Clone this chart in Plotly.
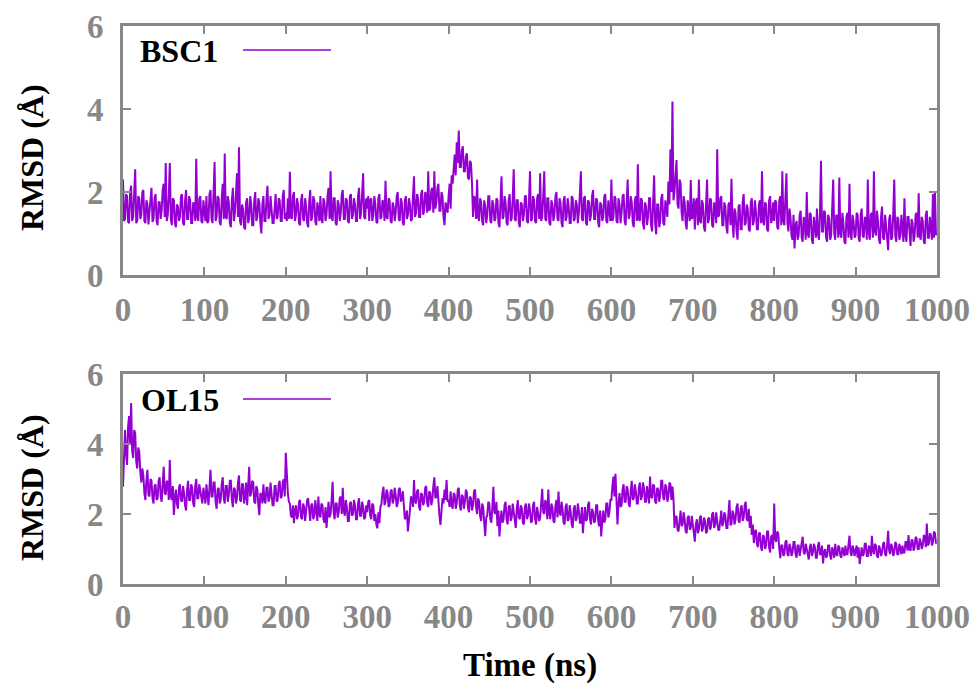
import numpy as np
import plotly.graph_objects as go

# ---- Data (RMSD in Angstrom; one list per 100 ns of simulation time) ----
segment_starts = [0, 100, 200, 300, 400, 500, 600, 700, 800, 900]
segment_length = 100
x_ticks = [0, 100, 200, 300, 400, 500, 600, 700, 800, 900, 1000]
y_ticks = [0, 2, 4, 6]

bsc1_000 = [2.30,1.30,1.35,1.95,1.90,1.28,1.25,2.00,2.15,1.30,1.40,1.85,2.55,1.25,1.30,1.90,1.85,1.35,1.45,2.00,2.05,1.30,1.25,1.80,1.70,1.22,1.50,1.95,2.10,1.28,1.35,1.85,1.95,1.30,1.20,1.75,1.75,1.35,1.55,2.05,2.20,1.40,2.70,1.30,1.45,1.90,2.70,1.35,1.20,1.85,1.80,1.25,1.15,1.70,1.65,1.30,1.40,1.90,1.95,1.25,1.20,1.80,2.05,1.35,1.35,1.90,1.80,1.25,1.25,1.75,1.70,1.30,2.80,1.40,1.30,1.85,1.90,1.30,1.25,1.80]
bsc1_100 = [1.45,1.30,1.90,1.25,1.30,1.95,2.05,1.35,1.25,1.80,2.72,1.30,1.40,1.90,1.85,1.28,1.20,1.85,2.20,1.35,2.93,1.40,1.35,1.90,1.75,1.25,1.15,1.80,2.10,1.30,1.50,1.95,2.45,1.40,3.08,1.30,1.20,1.70,1.60,1.15,1.10,1.75,1.85,1.25,1.35,1.90,1.70,1.20,1.20,1.80,2.00,1.30,1.40,1.85,1.75,1.25,1.00,1.70,1.90,1.30,1.30,1.85,2.15,1.35,1.45,1.90,1.65,1.25,1.25,1.80,1.95,1.35,1.40,1.85,1.80,1.30,1.30,1.90,2.05,1.35]
bsc1_200 = [1.50,1.30,1.85,1.35,2.49,1.40,1.35,1.90,2.00,1.30,1.45,1.85,1.70,1.25,1.20,1.80,1.95,1.35,1.30,1.85,1.65,1.25,1.15,1.75,2.05,1.30,1.40,1.90,1.80,1.28,1.20,1.75,1.60,1.30,1.90,1.35,1.25,1.85,1.75,1.30,1.45,1.90,2.10,1.35,2.50,1.40,1.30,1.85,1.85,1.25,1.20,1.80,1.70,1.30,1.50,1.95,2.05,1.35,1.35,1.85,1.80,1.30,1.25,1.90,1.95,1.35,1.45,1.85,1.70,1.30,1.30,1.90,2.10,1.35,1.50,1.95,2.45,1.40,1.35,1.85]
bsc1_300 = [1.60,1.90,1.30,1.80,1.85,1.30,1.45,1.90,1.70,1.28,1.25,1.85,1.95,1.35,1.40,1.80,1.75,1.30,2.27,1.40,1.35,1.85,1.80,1.30,1.25,1.75,1.65,1.30,1.50,1.90,2.00,1.35,1.30,1.85,1.75,1.25,1.20,1.80,1.90,1.35,1.45,1.85,1.70,1.30,1.35,1.90,2.38,1.40,1.50,1.95,1.85,1.40,1.40,1.95,2.05,1.45,1.55,2.00,1.90,1.50,2.50,1.55,1.60,2.05,2.10,1.50,2.50,1.60,1.75,2.10,2.20,1.55,1.55,2.00,1.90,1.40,1.20,1.75,1.65,1.50]
bsc1_400 = [1.90,2.20,1.60,2.40,2.20,2.60,2.90,2.40,3.20,2.70,3.48,2.60,2.60,3.00,3.10,2.50,2.50,2.85,2.93,2.35,2.30,2.75,2.70,2.20,1.40,1.90,1.85,1.35,2.30,1.40,1.30,1.85,1.75,1.30,1.20,1.80,1.65,1.25,1.45,1.90,1.90,1.30,1.25,1.80,1.70,1.30,1.35,1.85,1.80,1.25,1.15,1.75,2.38,1.35,1.40,1.90,1.75,1.25,1.20,1.80,1.95,1.30,1.35,1.85,2.55,1.35,1.30,1.80,1.80,1.25,1.15,1.75,1.70,1.30,1.45,1.90,1.90,1.30,1.25,1.80]
bsc1_500 = [2.50,1.30,1.35,1.90,1.80,1.30,1.25,1.85,1.95,1.35,2.45,1.30,1.40,1.90,2.50,1.35,1.30,1.85,1.85,1.25,1.20,1.80,1.70,1.30,1.45,1.90,2.00,1.35,1.30,1.85,1.75,1.25,1.15,1.80,1.90,1.30,1.40,1.85,1.65,1.25,1.25,1.90,1.85,1.30,1.35,1.80,1.70,1.25,1.50,1.95,2.50,1.35,1.30,1.85,1.90,1.25,1.20,1.80,1.75,1.30,1.45,1.90,2.05,1.35,1.35,1.85,1.80,1.25,1.15,1.75,1.70,1.30,1.40,1.90,1.95,1.30,1.25,1.80,1.60,1.30]
bsc1_600 = [2.30,1.30,1.40,1.90,1.85,1.30,1.25,1.85,1.70,1.25,1.50,1.90,1.95,1.30,1.20,1.80,2.30,1.35,1.45,1.90,1.75,1.25,1.15,1.80,1.90,1.30,2.67,1.35,1.30,1.85,1.80,1.25,1.10,1.75,1.65,1.20,1.40,1.85,1.85,1.20,1.05,1.75,2.40,1.25,0.98,1.70,1.70,1.15,1.30,1.85,1.95,1.25,1.20,1.80,1.60,1.40,2.25,1.70,3.03,2.00,4.18,1.80,2.00,2.60,2.77,1.70,1.60,2.30,2.20,1.50,1.30,1.90,1.75,1.25,1.10,1.80,1.60,1.30,2.29,1.35]
bsc1_700 = [1.40,1.85,1.10,1.75,1.85,1.20,2.30,1.30,1.25,1.80,1.70,1.15,1.05,1.75,2.30,1.25,1.35,1.85,1.80,1.20,1.15,1.75,1.60,1.25,3.03,1.40,1.45,1.85,1.90,1.20,1.20,1.75,1.65,1.15,1.00,1.70,1.75,1.20,2.32,1.30,0.90,1.60,1.50,1.05,0.85,1.65,1.70,1.10,1.10,1.75,1.95,1.20,1.25,1.70,1.60,1.10,1.05,1.75,1.85,1.20,1.30,1.80,1.55,1.10,1.10,1.70,1.80,1.25,2.50,1.30,1.20,1.75,1.70,1.10,1.05,1.80,1.90,1.25,1.35,1.75]
bsc1_800 = [1.30,1.80,1.75,1.15,1.10,1.80,1.90,1.20,2.50,1.30,1.20,1.85,2.45,1.25,1.05,1.60,1.40,0.95,0.85,1.45,0.64,1.20,1.30,0.85,0.95,1.45,1.55,0.90,0.80,1.40,1.25,0.85,2.00,1.00,0.90,1.50,1.45,0.85,0.75,1.40,1.20,0.90,1.60,1.00,0.85,1.50,2.75,1.05,1.05,1.55,1.50,0.90,0.80,1.45,1.35,0.85,0.95,1.50,2.30,1.00,0.85,1.45,1.40,0.90,2.35,1.00,0.90,1.50,1.25,0.80,0.75,1.40,1.50,0.90,2.20,1.00,0.85,1.45,1.30,0.90]
bsc1_900 = [0.95,1.50,1.45,0.90,0.80,1.45,1.60,0.95,0.90,1.40,1.35,0.85,2.30,1.00,0.85,1.45,1.50,0.90,2.50,1.05,0.95,1.55,1.30,0.85,0.75,1.40,1.65,0.90,0.85,1.45,1.20,0.80,0.60,1.35,1.45,0.85,0.90,1.50,2.30,0.95,0.80,1.40,1.35,0.85,0.95,1.45,1.15,0.80,1.85,0.95,0.80,1.40,1.40,0.85,0.70,1.35,1.25,0.80,0.95,1.45,1.50,0.90,1.97,0.95,0.85,1.40,1.30,0.80,0.75,1.45,1.55,0.90,0.90,1.40,1.20,0.85,1.95,0.90,2.00,0.95]

ol15_000 = [2.78,3.60,4.40,3.70,3.40,4.50,4.80,4.00,5.17,3.80,3.60,4.40,4.30,3.50,3.30,3.90,3.78,3.20,2.90,3.30,3.10,2.60,2.40,2.95,3.26,2.55,2.50,3.00,2.95,2.45,2.30,2.80,2.85,2.40,2.45,2.95,3.05,2.50,2.35,2.85,3.35,2.60,2.55,2.95,2.90,2.40,3.54,2.50,2.40,2.80,1.97,2.45,2.70,2.30,2.15,2.75,2.85,2.40,2.35,2.80,2.60,2.25,2.10,2.70,2.95,2.40,2.40,2.85,2.75,2.30,2.20,2.80,3.00,2.45,2.45,2.85,2.65,2.35,2.30,2.75]
ol15_100 = [2.45,2.30,2.85,2.40,2.25,2.75,3.26,2.50,2.50,2.90,2.90,2.35,2.15,2.70,2.75,2.30,2.40,2.85,3.05,2.45,2.30,2.80,2.80,2.35,2.55,2.95,2.95,2.40,2.20,2.75,2.70,2.30,2.45,2.90,3.10,2.40,2.35,2.85,2.85,2.30,2.50,2.90,2.25,2.75,3.35,2.50,2.60,2.95,2.90,2.35,2.30,2.80,2.70,2.25,1.97,2.60,2.55,2.30,2.85,2.40,2.30,2.75,2.75,2.35,2.45,2.90,2.60,2.25,2.25,2.80,2.80,2.35,2.40,2.85,2.95,2.45,2.50,2.90,3.00,2.50]
ol15_200 = [3.75,2.90,2.60,2.35,2.30,1.95,1.90,2.25,1.74,2.10,2.25,1.85,1.95,2.35,2.40,1.90,1.85,2.30,2.20,1.80,2.05,2.40,2.45,1.95,1.80,2.25,2.30,1.85,1.95,2.40,2.15,1.80,2.50,2.00,1.90,2.30,2.25,1.85,1.75,2.20,1.60,2.10,2.35,1.90,2.00,2.40,2.92,2.05,1.85,2.30,2.30,1.90,2.05,2.45,2.50,2.00,2.75,2.10,1.95,2.40,2.20,1.80,1.80,2.30,2.35,1.95,2.00,2.40,2.25,1.85,1.85,2.30,2.45,1.95,1.95,2.35,2.20,1.85,1.90,2.25]
ol15_300 = [2.05,2.35,2.40,1.95,1.85,2.30,2.25,1.80,2.00,1.70,1.59,2.05,1.74,2.20,2.30,2.60,2.78,2.25,2.35,2.70,2.60,2.20,2.25,2.65,2.70,2.30,2.40,2.75,2.55,2.20,2.30,2.70,2.75,2.35,2.45,2.65,2.20,1.85,1.90,2.10,1.50,1.95,2.10,2.50,2.45,2.20,2.97,2.35,2.30,2.65,2.70,2.20,2.10,2.60,2.55,2.25,2.35,2.75,2.80,2.30,2.20,2.65,2.60,2.25,2.40,2.80,3.05,2.45,2.50,2.80,2.25,1.95,1.69,2.20,2.45,2.30,2.70,2.40,2.97,2.35]
ol15_400 = [2.40,2.20,2.65,2.25,2.15,2.60,2.55,2.15,2.30,2.70,2.75,2.25,2.10,2.55,2.50,2.15,2.35,2.70,2.60,2.20,2.05,2.50,2.45,2.10,2.25,2.65,2.70,2.20,2.00,2.45,2.35,1.95,1.80,2.30,2.20,1.75,1.37,1.90,1.95,2.35,2.30,1.85,1.75,2.20,2.78,2.05,2.00,2.35,1.65,2.10,1.36,1.80,2.10,1.75,1.85,2.25,2.35,1.85,1.70,2.20,2.25,1.80,1.90,2.30,2.05,1.75,1.60,2.15,2.40,1.90,1.85,2.25,2.15,1.75,1.70,2.20,2.30,1.85,1.95,2.30]
ol15_500 = [2.10,1.75,1.80,2.25,2.35,1.85,1.70,2.20,2.05,1.80,1.90,2.35,2.72,2.05,2.00,2.40,2.30,1.85,2.70,2.00,1.85,2.30,2.20,1.80,1.75,2.25,2.40,1.90,2.64,2.05,1.95,2.35,2.15,1.75,1.70,2.20,2.30,1.80,1.85,2.25,2.05,1.70,1.60,2.15,2.25,1.80,1.90,2.30,2.10,1.75,1.75,2.20,1.45,1.85,2.20,1.80,1.85,2.25,2.35,1.85,1.70,2.15,2.05,1.75,1.80,2.25,2.25,1.80,1.65,2.10,1.36,1.80,2.10,1.75,1.85,2.30,2.30,1.90,2.05,2.40]
ol15_600 = [2.40,2.80,3.07,2.50,3.15,2.40,1.70,2.30,2.60,2.20,2.25,2.70,2.85,2.35,2.35,2.80,2.70,2.30,2.20,2.65,2.95,2.40,2.45,2.85,2.65,2.30,2.30,2.75,2.90,2.40,2.50,2.90,2.75,2.35,2.35,2.80,2.60,2.30,3.07,2.50,2.45,2.85,2.80,2.35,2.30,2.75,2.70,2.35,2.55,2.95,2.95,2.45,2.40,2.85,2.75,2.35,2.50,2.90,2.85,2.40,2.78,2.45,1.60,1.90,1.95,1.55,1.50,1.95,2.10,1.65,1.70,2.05,1.85,1.50,1.45,1.90,1.95,1.55,1.60,1.95]
ol15_700 = [1.75,1.45,1.21,1.70,1.85,1.45,1.55,1.90,1.95,1.50,1.60,1.90,1.80,1.45,1.50,1.85,1.90,1.55,1.65,2.00,2.05,1.60,1.70,2.05,1.85,1.55,1.55,1.95,2.10,1.65,1.75,2.05,1.95,1.60,1.60,2.00,2.40,1.70,1.70,2.10,2.00,1.70,1.85,2.20,2.30,1.80,1.75,2.15,2.25,1.80,1.90,2.25,2.35,1.85,1.80,2.15,1.60,1.95,1.40,1.70,1.17,1.50,1.55,1.15,1.05,1.45,1.45,1.05,0.95,1.40,1.35,1.00,1.10,1.50,1.50,1.05,0.90,1.35,1.40,1.00]
ol15_800 = [2.30,1.30,1.20,1.50,1.45,1.00,0.74,1.10,1.10,0.80,0.85,1.20,1.25,0.85,0.80,1.15,1.05,0.80,0.90,1.20,1.20,0.85,0.75,1.10,1.10,0.80,0.95,1.20,1.35,0.90,0.85,1.15,1.00,0.75,0.70,1.05,1.15,0.80,0.90,1.15,1.05,0.75,0.75,1.10,1.20,0.85,0.85,1.10,0.59,0.90,1.00,0.75,0.80,1.10,1.10,0.80,0.70,1.05,0.95,0.75,1.15,0.85,0.80,1.10,1.05,0.80,0.75,1.05,0.95,0.80,1.10,0.85,0.85,1.15,1.38,0.90,0.80,1.10,1.00,0.80]
ol15_900 = [0.95,1.10,0.75,1.05,0.57,0.90,1.05,0.80,0.85,1.15,1.15,0.80,0.80,1.10,1.00,0.80,1.38,0.95,0.85,1.15,1.10,0.80,0.75,1.10,1.00,0.80,0.90,1.15,1.20,0.85,0.80,1.10,1.52,0.95,0.85,1.15,1.05,0.80,0.90,1.20,1.15,0.85,0.85,1.15,1.00,0.85,1.10,0.90,0.90,1.20,1.20,0.95,1.40,1.00,0.95,1.25,1.25,0.95,1.05,1.35,1.30,1.00,1.00,1.30,1.20,1.00,1.10,1.40,1.35,1.05,1.73,1.10,1.15,1.45,1.40,1.10,1.20,1.50,1.45,1.15]

bsc1_segments = [bsc1_000, bsc1_100, bsc1_200, bsc1_300, bsc1_400,
                 bsc1_500, bsc1_600, bsc1_700, bsc1_800, bsc1_900]
ol15_segments = [ol15_000, ol15_100, ol15_200, ol15_300, ol15_400,
                 ol15_500, ol15_600, ol15_700, ol15_800, ol15_900]


def assemble(segments):
    t, v = [], []
    for start, seg in zip(segment_starts, segments):
        step = segment_length / len(seg)
        t.extend(start + step * i for i in range(len(seg)))
        v.extend(seg)
    return np.array(t), np.array(v)


time_bsc1, bsc1 = assemble(bsc1_segments)
time_ol15, ol15 = assemble(ol15_segments)

# ---- Styling ----
W, H = 979, 685
PURPLE = "#9400D3"
GRAY = "#888888"
SERIF = "Liberation Serif, Times New Roman, serif"
LINE_W = 2.0


def px_x(p):
    return p / W


def px_y(p):
    return (H - p) / H


fig = go.Figure()
fig.add_trace(go.Scatter(x=time_bsc1, y=bsc1, mode="lines",
                         line=dict(color=PURPLE, width=LINE_W),
                         xaxis="x", yaxis="y", showlegend=False, hoverinfo="skip"))
fig.add_trace(go.Scatter(x=time_ol15, y=ol15, mode="lines",
                         line=dict(color=PURPLE, width=LINE_W),
                         xaxis="x2", yaxis="y2", showlegend=False, hoverinfo="skip"))

xdom = [px_x(123), px_x(937)]
top_dom = [px_y(275), px_y(26)]
bot_dom = [px_y(584), px_y(374)]

axis_common = dict(
    showline=True, linecolor=GRAY, linewidth=3, mirror="ticks",
    ticks="inside", ticklen=8, tickwidth=1.5, tickcolor=GRAY,
    showgrid=False, zeroline=False, automargin=False,
    tickfont=dict(family=SERIF, size=33, color=GRAY, weight="bold"),
)

fig.update_layout(
    width=W, height=H,
    margin=dict(l=0, r=0, t=0, b=0, autoexpand=False),
    paper_bgcolor="white", plot_bgcolor="white",
    xaxis=dict(domain=xdom, anchor="y", range=[0, 1000], tickvals=x_ticks,
               ticklabelstandoff=3, **axis_common),
    yaxis=dict(domain=top_dom, anchor="x", range=[0, 6], tickvals=y_ticks,
               ticklabelstandoff=10, **axis_common),
    xaxis2=dict(domain=xdom, anchor="y2", range=[0, 1000], tickvals=x_ticks,
                ticklabelstandoff=1, **axis_common),
    yaxis2=dict(domain=bot_dom, anchor="x2", range=[0, 6], tickvals=y_ticks,
                ticklabelstandoff=10, **axis_common),
)

title_font = dict(family=SERIF, size=32, color="black", weight="bold")
annotations = [
    dict(text="RMSD (Å)", x=px_x(32), y=px_y(158), xref="paper", yref="paper",
         textangle=-90, showarrow=False, font=title_font, xanchor="center", yanchor="middle"),
    dict(text="RMSD (Å)", x=px_x(32), y=px_y(488), xref="paper", yref="paper",
         textangle=-90, showarrow=False, font=title_font, xanchor="center", yanchor="middle"),
    dict(text="Time (ns)", x=(xdom[0] + xdom[1]) / 2, y=px_y(665), xref="paper", yref="paper",
         showarrow=False, font=dict(family=SERIF, size=33, color="black", weight="bold"),
         xanchor="center", yanchor="middle"),
    dict(text="BSC1", x=px_x(220), y=px_y(51), xref="paper", yref="paper",
         showarrow=False, font=title_font, xanchor="right", yanchor="middle"),
    dict(text="OL15", x=px_x(221), y=px_y(400), xref="paper", yref="paper",
         showarrow=False, font=title_font, xanchor="right", yanchor="middle"),
]
fig.update_layout(annotations=annotations)

fig.add_shape(type="line", xref="paper", yref="paper",
              x0=px_x(243), x1=px_x(331), y0=px_y(50), y1=px_y(50),
              line=dict(color=PURPLE, width=1.5))
fig.add_shape(type="line", xref="paper", yref="paper",
              x0=px_x(243), x1=px_x(331), y0=px_y(399), y1=px_y(399),
              line=dict(color=PURPLE, width=1.5))

fig.write_html("out.html", config={"displayModeBar": False},
               post_script="document.body.style.margin='0';document.body.style.overflow='hidden';")
